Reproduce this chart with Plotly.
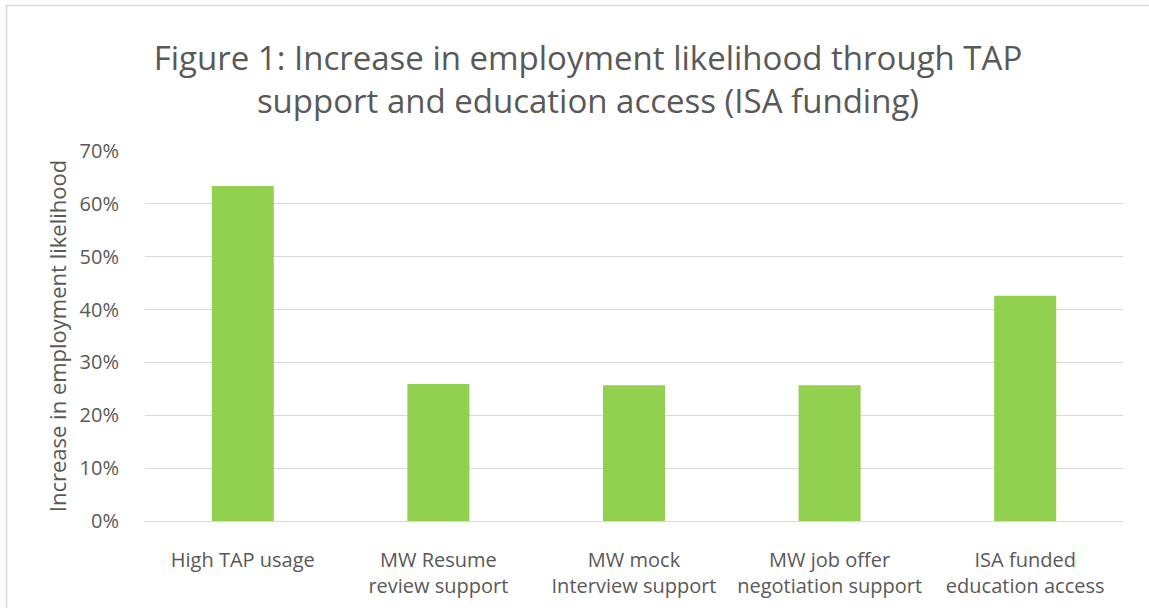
import plotly.graph_objects as go

categories = [
    "High TAP usage",
    "MW Resume<br>review support",
    "MW mock<br>Interview support",
    "MW job offer<br>negotiation support",
    "ISA funded<br>education access",
]
values = [0.634, 0.259, 0.257, 0.257, 0.426]
tick_vals = [0, 0.1, 0.2, 0.3, 0.4, 0.5, 0.6, 0.7]

FONT = "Open Sans"
GREY = "#595959"

fig = go.Figure(
    go.Bar(
        x=categories,
        y=values,
        marker=dict(color="#92d050", line=dict(width=0)),
        hoverinfo="skip",
    )
)

fig.update_layout(
    width=1149,
    height=608,
    margin=dict(l=145, r=26, t=151, b=87),
    paper_bgcolor="white",
    plot_bgcolor="white",
    bargap=0.683,
    showlegend=False,
    font=dict(family=FONT, color=GREY),
    title=dict(
        text="Figure 1: Increase in employment likelihood through TAP<br>support and education access (ISA funding)",
        x=588 / 1149,
        xanchor="center",
        xref="container",
        y=1 - 70 / 608,
        yref="container",
        yanchor="middle",
        font=dict(family=FONT, size=33, color=GREY),
    ),
    xaxis=dict(
        automargin=False,
        showgrid=False,
        showline=True,
        linecolor="#d9d9d9",
        linewidth=1,
        ticks="outside",
        ticklen=21,
        tickcolor="rgba(0,0,0,0)",
        tickfont=dict(family=FONT, size=20, color=GREY),
    ),
    yaxis=dict(
        automargin=False,
        range=[0, 0.7],
        tickvals=tick_vals,
        tickformat=".0%",
        showgrid=True,
        gridcolor="#d9d9d9",
        gridwidth=1,
        zeroline=False,
        showline=False,
        ticks="outside",
        ticklen=21,
        tickcolor="rgba(0,0,0,0)",
        tickfont=dict(family=FONT, size=20, color=GREY),
        title=dict(
            text="Increase in employment likelihood",
            font=dict(family=FONT, size=22, color=GREY),
            standoff=6,
        ),
    ),
    shapes=[
        dict(
            type="rect",
            xref="paper",
            yref="paper",
            x0=(6.5 - 145) / 978,
            x1=1.2,
            y0=-0.5,
            y1=(521 - 5.5) / 370,
            line=dict(color="#d9d9d9", width=1.5),
            fillcolor="rgba(0,0,0,0)",
            layer="below",
        )
    ],
)

fig.write_html("out.html")
